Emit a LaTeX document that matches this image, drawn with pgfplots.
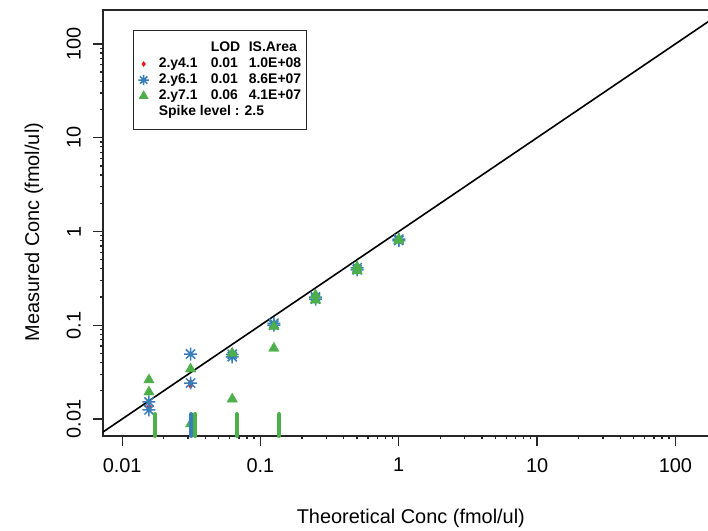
\documentclass[border=0pt]{standalone}
\usepackage{fontspec}
\setmainfont{Liberation Sans}
\usepackage{pgfplots}
\pgfplotsset{compat=1.18}

\definecolor{rred}{HTML}{E41A1C}
\definecolor{rblue}{HTML}{377EB8}
\definecolor{rgreen}{HTML}{4DAF4A}

% R pch 8: eight-spoke asterisk
\pgfdeclareplotmark{rstar}{%
  \pgfpathmoveto{\pgfqpoint{-\pgfplotmarksize}{0pt}}%
  \pgfpathlineto{\pgfqpoint{\pgfplotmarksize}{0pt}}%
  \pgfpathmoveto{\pgfqpoint{0pt}{-\pgfplotmarksize}}%
  \pgfpathlineto{\pgfqpoint{0pt}{\pgfplotmarksize}}%
  \pgfpathmoveto{\pgfqpoint{-0.7071\pgfplotmarksize}{-0.7071\pgfplotmarksize}}%
  \pgfpathlineto{\pgfqpoint{0.7071\pgfplotmarksize}{0.7071\pgfplotmarksize}}%
  \pgfpathmoveto{\pgfqpoint{-0.7071\pgfplotmarksize}{0.7071\pgfplotmarksize}}%
  \pgfpathlineto{\pgfqpoint{0.7071\pgfplotmarksize}{-0.7071\pgfplotmarksize}}%
  \pgfusepathqstroke}

\begin{document}
\begin{tikzpicture}
\begin{axis}[
    at={(103bp,95bp)}, anchor=south west,
    scale only axis, width=606bp, height=426bp,
    xmode=log, ymode=log,
    xmin=0.00727, xmax=175, ymin=0.00659, ymax=230,
    xtick={0.01,0.1,1,10,100}, xticklabels={0.01,0.1,1,10,100},
    ytick={0.01,0.1,1,10,100}, yticklabels={0.01,0.1,1,10,100},
    minor xtick={}, minor ytick={},
    tick pos=left, tick align=outside, major tick length=10bp,
    axis line style={line width=1.3bp, black!85},
    every tick/.style={line width=1.3bp, black!85},
    font=\fontsize{20}{24}\selectfont,
    /pgf/number format/assume math mode=true,
    xticklabel style={anchor=north, inner sep=0pt},
    xticklabel shift=12bp,
    yticklabel style={rotate=90, anchor=south, inner sep=0pt},
    yticklabel shift=12bp,
    xlabel={Theoretical Conc (fmol/ul)},
    ylabel={Measured Conc (fmol/ul)},
    xlabel style={at={(axis description cs:0.508,-0.1925)}, anchor=center, inner sep=0pt},
    ylabel style={at={(axis description cs:-0.114,0.479)}, anchor=center, inner sep=0pt},
    legend style={at={(axis description cs:0.0495,0.953)}, anchor=north west,
        draw=black!85, line width=1bp, inner xsep=5bp, inner ysep=11bp,
        font=\fontsize{14}{16}\selectfont\bfseries,
        row sep=3bp, column sep=0bp,
        nodes={inner sep=0pt, text height=10bp, text depth=3bp}},
    legend cell align=left,
    legend image code/.code={\draw[#1, mark size=0.8*\pgfplotmarksize] plot coordinates {(0bp,0bp)};},
]
\addlegendimage{empty legend}
\addlegendentry{\hspace{10bp}\makebox[52bp][l]{}\makebox[38bp][l]{LOD}IS.Area}

\addplot[black, line width=1.6bp, forget plot] coordinates {(0.001,0.001) (1000,1000)};

% 2.y4.1
\addplot[only marks, mark=diamond*, mark size=3.2pt, color=rred, mark options={draw=rred, fill=rred, line width=0.3bp}]
coordinates {(0.015625,0.0128) (0.015625,0.0135) (0.03125,0.0228) (0.03125,0.0245)
 (0.0625,0.047) (0.0625,0.049) (0.125,0.101) (0.125,0.106) (0.25,0.195) (0.25,0.205)
 (0.5,0.39) (0.5,0.41) (1,0.81) (1,0.83)};
\addlegendentry{\hspace{10bp}\makebox[52bp][l]{2.y4.1}\makebox[38bp][l]{0.01}1.0E+08}

% 2.y6.1
\addplot[only marks, mark=rstar, mark size=6.5pt, color=rblue, mark options={line width=1.5bp}]
coordinates {(0.015625,0.0152) (0.015625,0.0125) (0.03125,0.0493) (0.03125,0.0242)
 (0.0625,0.0461) (0.0625,0.049) (0.125,0.105) (0.125,0.1) (0.25,0.2) (0.25,0.19)
 (0.5,0.41) (0.5,0.39) (1,0.83) (1,0.8)};
\addlegendentry{\hspace{10bp}\makebox[52bp][l]{2.y6.1}\makebox[38bp][l]{0.01}8.6E+07}

% 2.y7.1
\addplot[only marks, mark=triangle*, mark size=6pt, color=rgreen, mark options={draw=none, fill=rgreen}]
coordinates {(0.015625,0.0261) (0.015625,0.0194) (0.03125,0.0341) (0.03125,0.00885)
 (0.0625,0.0502) (0.0625,0.0163) (0.125,0.0969) (0.125,0.0568) (0.25,0.21) (0.25,0.185)
 (0.5,0.42) (0.5,0.38) (1,0.83) (1,0.80)};
\addlegendentry{\hspace{10bp}\makebox[52bp][l]{2.y7.1}\makebox[38bp][l]{0.06}4.1E+07}

% rug marks near the bottom
\addplot[only marks, forget plot, mark=|, mark size=11bp, color=rblue, mark options={line width=4bp, line cap=round}]
coordinates {(0.0317,0.00863)};
\addplot[only marks, forget plot, mark=|, mark size=11bp, color=rgreen, mark options={line width=4bp, line cap=round}]
coordinates {(0.01728,0.00863) (0.03376,0.00863) (0.0674,0.00863) (0.136,0.00863)};

\addlegendimage{empty legend}
\addlegendentry{\hspace{10bp}Spike level : 2.5}
\end{axis}
\pgfresetboundingbox
\useasboundingbox (0,0) rectangle (708bp,531bp);
\end{tikzpicture}
\end{document}
